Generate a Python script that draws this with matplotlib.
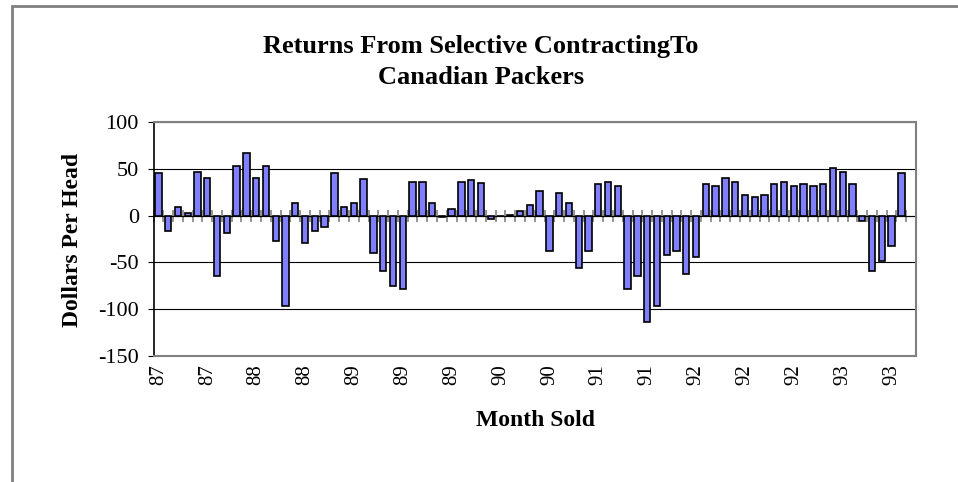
import matplotlib.pyplot as plt
import numpy as np
from matplotlib.patches import Rectangle

# monthly returns, dollars per head (last slot empty)
returns = [45, -16.5, 9, 3, 47, 40, -65, -19, 53, 66.5,
           40, 53, -27, -97, 13, -29, -16.5, -12.5, 45, 9,
           13, 39, -40, -59, -75, -78, 36, 36, 13, -2,
           7, 36, 38, 34.5, -3.5, 0, 1, 5, 11, 26,
           -38, 24, 13, -56, -38, 34, 36, 32, -78, -65,
           -114, -97, -42, -38, -62, -44, 34, 32, 40.5, 36,
           21.6, 19.5, 21.6, 34, 36, 32, 34, 32, 34, 51,
           47, 34, -5.5, -59, -48, -33, 45, np.nan]
tick_pos = [0, 5, 10, 15, 20, 25, 30, 35, 40, 45, 50, 55, 60, 65, 70, 75]
tick_labels = ['87', '87', '88', '88', '89', '89', '89', '90',
               '90', '91', '91', '92', '92', '92', '93', '93']
yticks = [100, 50, 0, -50, -100, -150]

plt.rcParams['font.family'] = 'Liberation Serif'

fig = plt.figure(figsize=(9.58, 4.82), dpi=100)
# outer chart frame
fig.patches.append(Rectangle((12 / 958, -0.1), 1.2, 1 - 6 / 482 + 0.1, transform=fig.transFigure,
                             fill=False, edgecolor='#808080', linewidth=2))

ax = fig.add_axes([153.5 / 958, 1 - 356 / 482, (916 - 153.5) / 958, (356 - 122) / 482])
n = len(returns)
x = np.arange(n)
ax.bar(x, returns, width=0.65, color='#8080FF', edgecolor='black', linewidth=1.2, zorder=3)

ax.set_xlim(-0.5, n - 0.5)
ax.set_ylim(-150, 100)
ax.set_yticks(yticks)
ax.set_yticklabels([str(v) for v in yticks], fontsize=16)
ax.yaxis.grid(True, color='black', linewidth=0.8)
ax.set_axisbelow(True)
ax.tick_params(axis='y', direction='out', length=4.5, color='black', pad=6)

ax.set_xticks(tick_pos)
ax.set_xticklabels(tick_labels, rotation=90, fontsize=15)
ax.tick_params(axis='x', length=0, pad=6)

for s in ['top', 'right', 'bottom']:
    ax.spines[s].set_color('#808080')
    ax.spines[s].set_linewidth(1.5)
ax.spines['left'].set_color('black')
ax.spines['left'].set_linewidth(1.2)

# category axis drawn at zero
zero_ax = ax.secondary_xaxis(150 / 250)
zero_ax.set_xticks(np.arange(-0.5, n, 1))
zero_ax.tick_params(direction='inout', length=9, color='#808080', width=1.2,
                    labelbottom=False, labeltop=False)
zero_ax.spines['bottom'].set_color('black')
zero_ax.spines['bottom'].set_linewidth(1.2)

fig.text(72 / 958, 1 - 240 / 482, 'Dollars Per Head', rotation=90, ha='center', va='center',
         fontsize=17, fontweight='bold')
fig.text(535 / 958, 1 - 421 / 482, 'Month Sold', ha='center', va='center',
         fontsize=17, fontweight='bold')

fig.text(481 / 958, 1 - 46 / 482, 'Returns From Selective ContractingTo', ha='center', va='center',
         fontsize=19, fontweight='bold')
fig.text(481 / 958, 1 - 77 / 482, 'Canadian Packers', ha='center', va='center',
         fontsize=19, fontweight='bold')

fig.savefig('out.png', dpi=100)
